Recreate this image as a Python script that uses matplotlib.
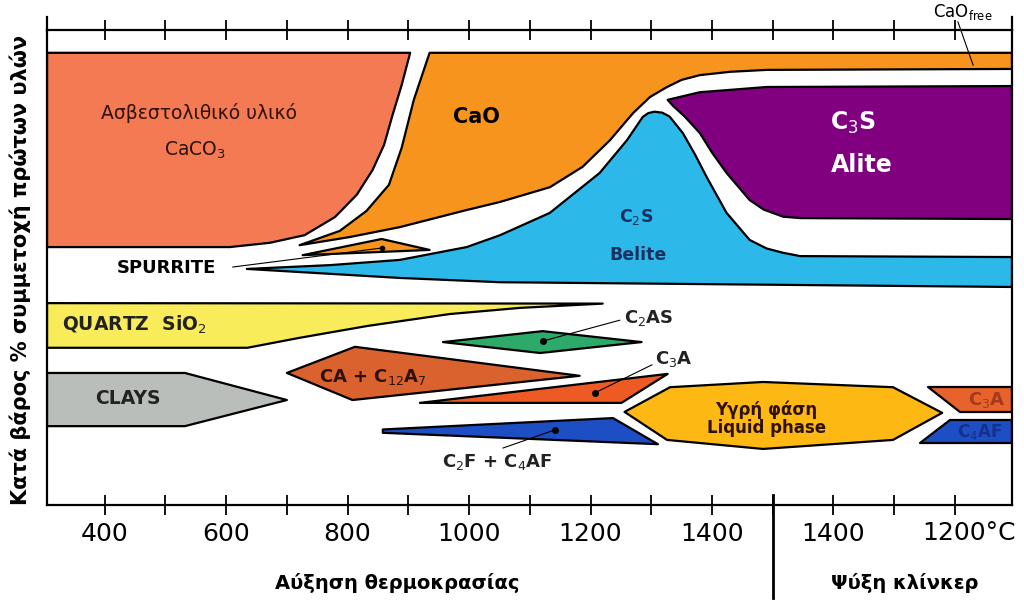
import matplotlib.pyplot as plt
from matplotlib.patches import Polygon

plt.rcParams['font.family'] = ['DejaVu Sans']

# x = temperature scale (heating 300..1500 C, then cooling: 1600 -> 1400 C, 1800 -> 1200 C)
# y = weight % share
caco3 = [(305, 95.2), (903, 95.2), (889, 88.4), (874, 82.1), (860, 75.8), (841, 70.5),
         (815, 65.3), (779, 60.6), (729, 56.8), (672, 55.2), (606, 54.3), (305, 54.3)]
cao = [(935, 95.2), (1894, 95.2), (1894, 91.8), (1490, 91.6), (1430, 91.2), (1380, 90.5),
       (1350, 89.5), (1326, 88.0), (1298, 85.9), (1270, 82.5), (1232, 76.8), (1187, 71.2),
       (1133, 66.9), (1051, 63.8), (996, 62.1), (886, 58.5), (803, 56.4), (721, 54.7),
       (787, 57.7), (831, 61.9), (868, 67.4), (889, 75.2), (909, 85.3)]
spurrite = [(726, 52.6), (856, 56.0), (935, 53.7)]
c2s = [(634, 49.7), (771, 50.5), (886, 51.6), (996, 54.3), (1051, 56.8), (1133, 61.5),
       (1215, 69.9), (1260, 76.8), (1286, 81.7), (1295, 82.5), (1305, 82.8), (1318, 82.6),
       (1330, 81.8), (1352, 78.3), (1372, 73.8), (1391, 69.1), (1424, 61.5), (1462, 55.8),
       (1490, 54.0), (1517, 53.1), (1545, 52.4), (1894, 52.2), (1894, 45.9), (1051, 46.9),
       (886, 47.8)]
c3s = [(1327, 85.3), (1380, 86.9), (1490, 88.0), (1894, 88.2), (1894, 60.2), (1545, 60.4),
       (1517, 60.7), (1485, 62.2), (1462, 64.2), (1424, 69.9), (1400, 74.2), (1380, 78.3),
       (1355, 81.8), (1336, 84.0)]
quartz = [(305, 42.5), (1220, 42.4), (1084, 41.5), (968, 40.2), (833, 37.7), (721, 35.2),
          (635, 33.1), (305, 33.1)]
clays = [(305, 27.8), (532, 27.8), (700, 22.1), (532, 16.6), (305, 16.6)]
ca_c12a7 = [(700, 27.8), (812, 33.3), (1182, 27.2), (808, 22.1)]
c2as = [(957, 34.3), (1121, 36.6), (1284, 34.3), (1117, 32.0)]
c3a_heat = [(919, 21.5), (1327, 27.6), (1251, 21.5)]
c2f_c4af = [(858, 15.9), (1237, 18.3), (1311, 12.8), (858, 15.2)]
liquid = [(1256, 19.6), (1331, 24.8), (1484, 25.9), (1698, 24.8), (1779, 19.4),
          (1698, 13.7), (1484, 11.8), (1326, 13.7)]
c3a_cool = [(1756, 24.8), (1894, 24.8), (1894, 19.6), (1808, 19.6)]
c4af_cool = [(1792, 17.9), (1894, 17.9), (1894, 13.1), (1742, 13.1)]

tick_pos = list(range(400, 1900, 100))
tick_lbl = ['400', '', '600', '', '800', '', '1000', '', '1200', '', '1400', '', '1400', '', '']
last_lbl = '1200°C'

phases = [
    (caco3, '#F37A52'),
    (cao, '#F7941E'),
    (spurrite, '#F7941E'),
    (c2s, '#2CB9EA'),
    (c3s, '#800080'),
    (quartz, '#F8EC5A'),
    (clays, '#B9BEBB'),
    (ca_c12a7, '#D9622F'),
    (c2as, '#2DAA6A'),
    (c3a_heat, '#EE5A24'),
    (c2f_c4af, '#1D4EC4'),
    (liquid, '#FDB814'),
    (c3a_cool, '#E8622B'),
    (c4af_cool, '#1D4EC4'),
]

fig = plt.figure(figsize=(10.24, 6.15), dpi=100)
ax = fig.add_axes([47 / 1024, 110 / 615, 965 / 1024, 475 / 615])

for pts, col in phases:
    ax.add_patch(Polygon(pts, closed=True, facecolor=col, edgecolor='black', lw=1.6,
                         joinstyle='round'))

ax.set_xlim(305, 1894)
ax.set_ylim(0, 100)
ax.set_yticks([])
ax.set_xticks(tick_pos)
ax.set_xticklabels(tick_lbl)
ax.tick_params(axis='x', direction='inout', length=14, width=1.3, top=True,
               labelsize=18, pad=5)
for s in ax.spines.values():
    s.set_linewidth(1.6)

# spine stubs above the top axis
ax.plot([305, 305], [100, 102.8], color='black', lw=1.6, clip_on=False)
ax.plot([1894, 1894], [100, 102.8], color='black', lw=1.6, clip_on=False)
# heating / cooling divider
ax.plot([1500, 1500], [2.1, -19.6], color='black', lw=2, clip_on=False)

# leader lines and dots
ax.plot([611, 856], [50.1, 54.1], color='black', lw=0.8)
ax.plot([856], [54.1], 'o', color='black', ms=3)
ax.plot([1121, 1248], [34.5, 38.9], color='black', lw=0.8)
ax.plot([1121], [34.5], 'o', color='black', ms=4)
ax.plot([1207, 1301], [23.6, 29.5], color='black', lw=0.8)
ax.plot([1207], [23.6], 'o', color='black', ms=4)
ax.plot([1141, 1056], [15.8, 12.0], color='black', lw=0.8)
ax.plot([1141], [15.8], 'o', color='black', ms=4)
ax.plot([1805, 1830], [101.7, 92.6], color='black', lw=0.8, clip_on=False)

dark = '#2e1209'
ax.text(556, 82.5, 'Ασβεστολιθικό υλικό', ha='center', va='center', fontsize=13.5, color=dark)
ax.text(548, 74.7, 'CaCO$_3$', ha='center', va='center', fontsize=13.5, color=dark)
ax.text(1012, 81.7, 'CaO', ha='center', va='center', fontsize=15, fontweight='bold', color='black')
ax.text(1632, 80.4, 'C$_3$S', ha='center', va='center', fontsize=17, fontweight='bold', color='white')
ax.text(1647, 71.6, 'Alite', ha='center', va='center', fontsize=17, fontweight='bold', color='white')
ax.text(1276, 60.6, 'C$_2$S', ha='center', va='center', fontsize=12.5, fontweight='bold', color='#1a3060')
ax.text(1278, 52.6, 'Belite', ha='center', va='center', fontsize=12.5, fontweight='bold', color='#1a3060')
ax.text(502, 49.9, 'SPURRITE', ha='center', va='center', fontsize=13, fontweight='bold')
ax.text(329, 37.9, 'QUARTZ  SiO$_2$', ha='left', va='center', fontsize=13.5, fontweight='bold', color='#222222')
ax.text(438, 22.5, 'CLAYS', ha='center', va='center', fontsize=13.5, fontweight='bold', color='#222222')
ax.text(841, 26.9, 'CA + C$_{12}$A$_7$', ha='center', va='center', fontsize=13, fontweight='bold', color=dark)
ax.text(1255, 39.4, 'C$_2$AS', ha='left', va='center', fontsize=13, fontweight='bold', color='#222222')
ax.text(1306, 30.8, 'C$_3$A', ha='left', va='center', fontsize=13, fontweight='bold', color='#222222')
ax.text(1047, 9.1, 'C$_2$F + C$_4$AF', ha='center', va='center', fontsize=13, fontweight='bold', color='#222222')
ax.text(1490, 20.0, 'Υγρή φάση', ha='center', va='center', fontsize=12, fontweight='bold', color=dark)
ax.text(1490, 16.2, 'Liquid phase', ha='center', va='center', fontsize=12, fontweight='bold', color=dark)
ax.text(1853, 22.1, 'C$_3$A', ha='center', va='center', fontsize=13, fontweight='bold', color='#a33a1c')
ax.text(1841, 15.4, 'C$_4$AF', ha='center', va='center', fontsize=12, fontweight='bold', color='#16308a')
ax.text(1813, 103.8, r'CaO$_{\mathrm{free}}$', ha='center', va='center', fontsize=12, clip_on=False)
ax.text(1823, -5.8, last_lbl, ha='center', va='center', fontsize=18, clip_on=False)

ax.text(881, -16.4, 'Αύξηση θερμοκρασίας', ha='center', va='center', fontsize=14, fontweight='bold')
ax.text(1717, -16.4, 'Ψύξη κλίνκερ', ha='center', va='center', fontsize=14, fontweight='bold')
fig.text(20 / 1024, 1 - 270 / 615, 'Κατά βάρος % συμμετοχή πρώτων υλών', rotation=90,
         ha='center', va='center', fontsize=15, fontweight='bold')

plt.savefig('out.png', dpi=100)
